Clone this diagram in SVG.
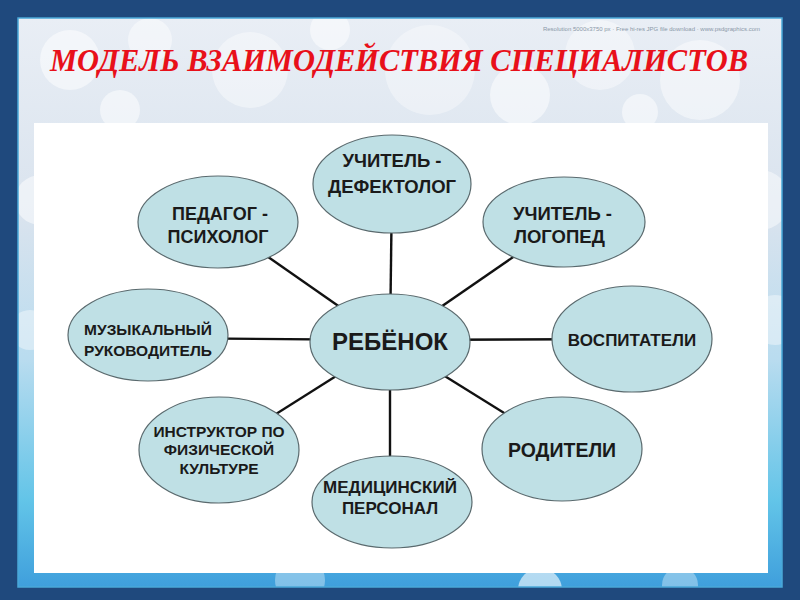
<svg xmlns="http://www.w3.org/2000/svg" width="800" height="600" viewBox="0 0 800 600">
<defs>
<linearGradient id="bg" x1="0" y1="0" x2="0" y2="1">
<stop offset="0" stop-color="#e9eef5"/>
<stop offset="0.35" stop-color="#d9e3ee"/>
<stop offset="0.6" stop-color="#b9dcef"/>
<stop offset="0.85" stop-color="#62c4e8"/>
<stop offset="1" stop-color="#3f9fdc"/>
</linearGradient>
<clipPath id="inner"><rect x="18" y="18" width="764" height="569"/></clipPath>
<style>
.node{fill:#bfe0e5;stroke:#5a6a6e;stroke-width:1.2}
.lbl{font-family:"Liberation Sans",Arial,sans-serif;font-weight:bold;fill:#1a1a1a;text-anchor:middle}
.conn line{stroke:#111;stroke-width:2.4}
.bok{fill:#ffffff}
</style>
</defs>
<rect x="0" y="0" width="800" height="600" fill="#1f497d"/>
<rect x="18" y="18" width="764" height="569" fill="url(#bg)"/>
<g class="bok" clip-path="url(#inner)">
<circle cx="70" cy="60" r="30" opacity="0.5"/>
<circle cx="150" cy="40" r="22" opacity="0.45"/>
<circle cx="250" cy="70" r="38" opacity="0.4"/>
<circle cx="330" cy="30" r="20" opacity="0.5"/>
<circle cx="430" cy="70" r="45" opacity="0.35"/>
<circle cx="520" cy="95" r="30" opacity="0.5"/>
<circle cx="600" cy="55" r="35" opacity="0.4"/>
<circle cx="700" cy="80" r="40" opacity="0.45"/>
<circle cx="760" cy="200" r="30" opacity="0.45"/>
<circle cx="775" cy="320" r="25" opacity="0.4"/>
<circle cx="40" cy="200" r="25" opacity="0.5"/>
<circle cx="30" cy="330" r="20" opacity="0.4"/>
<circle cx="120" cy="110" r="20" opacity="0.5"/>
<circle cx="640" cy="112" r="18" opacity="0.5"/>
<circle cx="300" cy="580" r="25" opacity="0.35"/>
<circle cx="540" cy="590" r="22" opacity="0.6"/>
<circle cx="680" cy="585" r="18" opacity="0.35"/>
</g>
<rect x="18" y="18" width="764" height="569" fill="none" stroke="#4aa8d8" stroke-width="1.5"/>
<text x="760" y="31" font-family="Liberation Sans,Arial,sans-serif" font-size="6" fill="#8a98a8" text-anchor="end">Resolution 5000x3750 px  ·  Free hi-res JPG file download  ·  www.psdgraphics.com</text>
<text x="50" y="71" font-family="'Liberation Serif','Times New Roman',serif" font-size="32" font-weight="bold" font-style="italic" fill="#e8101a" textLength="698" lengthAdjust="spacingAndGlyphs">МОДЕЛЬ ВЗАИМОДЕЙСТВИЯ СПЕЦИАЛИСТОВ</text>
<rect x="34" y="123" width="734" height="450" fill="#ffffff"/>
<g id="connectors" class="conn">
<line x1="390" y1="342" x2="392" y2="184"/>
<line x1="390" y1="342" x2="218" y2="222"/>
<line x1="390" y1="342" x2="564" y2="222"/>
<line x1="390" y1="340" x2="148" y2="338"/>
<line x1="390" y1="340" x2="632" y2="339"/>
<line x1="390" y1="342" x2="219" y2="450"/>
<line x1="390" y1="342" x2="562" y2="449"/>
<line x1="390" y1="342" x2="390" y2="502"/>
</g>
<g id="n-defektolog"><ellipse class="node" cx="392" cy="184" rx="79" ry="49"/><text class="lbl" font-size="18.5" x="392" y="167">УЧИТЕЛЬ -</text><text class="lbl" font-size="18.5" x="392" y="193">ДЕФЕКТОЛОГ</text></g>
<g id="n-psiholog"><ellipse class="node" cx="218" cy="222" rx="80" ry="46"/><text class="lbl" font-size="18" x="220" y="220">ПЕДАГОГ -</text><text class="lbl" font-size="18" x="218" y="243">ПСИХОЛОГ</text></g>
<g id="n-logoped"><ellipse class="node" cx="564" cy="222" rx="81" ry="45"/><text class="lbl" font-size="18.5" x="513" y="220" style="text-anchor:start">УЧИТЕЛЬ -</text><text class="lbl" font-size="18.5" x="514" y="243" style="text-anchor:start">ЛОГОПЕД</text></g>
<g id="n-muz"><ellipse class="node" cx="148" cy="335" rx="80" ry="46"/><text class="lbl" font-size="15.5" x="148" y="335">МУЗЫКАЛЬНЫЙ</text><text class="lbl" font-size="15.5" x="148" y="356">РУКОВОДИТЕЛЬ</text></g>
<g id="n-rebenok"><ellipse class="node" cx="390" cy="342" rx="80" ry="48"/><text class="lbl" font-size="24" x="390" y="350">РЕБЁНОК</text></g>
<g id="n-vospit"><ellipse class="node" cx="632" cy="339" rx="80" ry="53"/><text class="lbl" font-size="17" x="632" y="346">ВОСПИТАТЕЛИ</text></g>
<g id="n-instr"><ellipse class="node" cx="219" cy="450" rx="80" ry="53"/><text class="lbl" font-size="15.5" x="219" y="437">ИНСТРУКТОР ПО</text><text class="lbl" font-size="15.5" x="219" y="455">ФИЗИЧЕСКОЙ</text><text class="lbl" font-size="15.5" x="219" y="474">КУЛЬТУРЕ</text></g>
<g id="n-roditeli"><ellipse class="node" cx="562" cy="449" rx="80" ry="52"/><text class="lbl" font-size="19.5" x="562" y="457">РОДИТЕЛИ</text></g>
<g id="n-med"><ellipse class="node" cx="392" cy="502" rx="80" ry="46"/><text class="lbl" font-size="17" x="390" y="493">МЕДИЦИНСКИЙ</text><text class="lbl" font-size="17" x="390" y="514">ПЕРСОНАЛ</text></g>
</svg>
